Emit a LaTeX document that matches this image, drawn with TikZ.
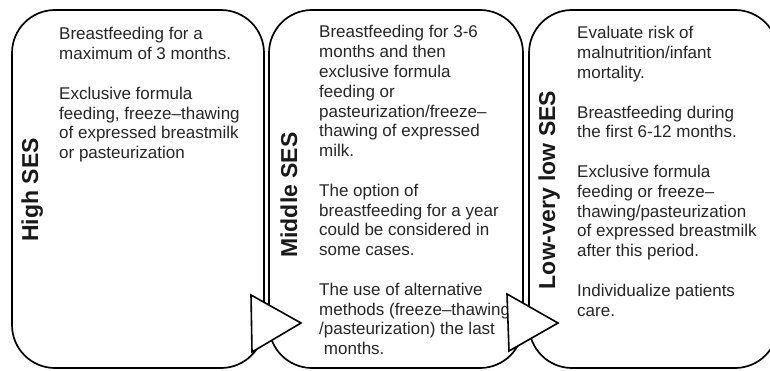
\documentclass[tikz,border=0pt]{standalone}
\usepackage{fontspec}
\setmainfont{Liberation Sans}
\begin{document}
\begin{tikzpicture}[x=1pt,y=1pt,
  sesbox/.style={draw=black, line width=1.7pt, rounded corners=43pt,
    minimum height=358pt, inner sep=0pt, fill=white},
  seslabel/.style={rotate=90, anchor=base, inner sep=0pt,
    font=\fontsize{23}{27}\selectfont\bfseries, text=black!90},
  bodytext/.style={anchor=base west, inner sep=0pt, text=black!85,
    font=\fontsize{17}{19.8}\selectfont},
  flowtri/.style={draw=black, line width=1.6pt, fill=white, line join=miter}]
\useasboundingbox (0,0) rectangle (770,370);

% three rounded panels
\node[sesbox, minimum width=252pt] (b1) at (138,181) {};
\node[sesbox, minimum width=254pt] (b2) at (396,181) {};
\node[sesbox, minimum width=249pt] (b3) at (653.5,181) {};

% vertical panel titles
\node[seslabel] (l1) at (38,180) {High SES};
\node[seslabel] (l2) at (297,175) {Middle SES};
\node[seslabel] (l3) at (555,180) {Low-very low SES};

% panel texts
\node[bodytext] (t1) at (59,330) {\parbox[t]{205pt}{\raggedright
Breastfeeding for a\\
maximum of 3 months.\\[19.8pt]
Exclusive formula\\
feeding, freeze–thawing\\
of expressed breastmilk\\
or pasteurization}};

\node[bodytext] (t2) at (319,332) {\parbox[t]{205pt}{\raggedright
Breastfeeding for 3-6\\
months and then\\
exclusive formula\\
feeding or\\
pasteurization/freeze–\\
thawing of expressed\\
milk.\\[19.8pt]
The option of\\
breastfeeding for a year\\
could be considered in\\
some cases.\\[19.8pt]
The use of alternative\\
methods (freeze–thawing\\
/pasteurization) the last\\
\hspace*{0.28em}months.}};

\node[bodytext] (t3) at (577,331) {\parbox[t]{195pt}{\raggedright
Evaluate risk of\\
malnutrition/infant\\
mortality.\\[19.8pt]
Breastfeeding during\\
the first 6-12 months.\\[19.8pt]
Exclusive formula\\
feeding or freeze–\\
thawing/pasteurization\\
of expressed breastmilk\\
after this period.\\[19.8pt]
Individualize patients\\
care.}};

% arrow triangles across the panel joints
\draw[flowtri] (251,75) -- (252,18) -- (301,47) -- cycle;
\draw[flowtri] (507,76) -- (509,19) -- (558,47) -- cycle;
\end{tikzpicture}
\end{document}
